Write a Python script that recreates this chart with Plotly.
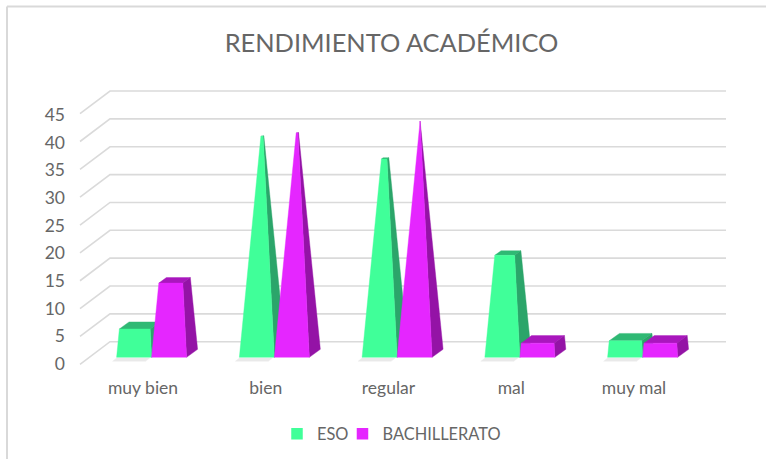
import plotly.graph_objects as go

CATEGORIES = ["muy bien", "bien", "regular", "mal", "muy mal"]
ESO = [5, 39, 35, 18, 2.9]
BACHILLERATO = [13.1, 39.6, 41.7, 2.5, 2.5]
Y_TICKS = [0, 5, 10, 15, 20, 25, 30, 35, 40, 45]

W, H = 766, 459
L, R, T, B = 66, 745, 60, 375
PX_CAT0, PX_PER_CAT = 143.0, 122.75
PX_V0, PX_PER_V = 364.0, 5.534
PLANE = 5.57 / 5.534


def dx(px):
    return px / PX_PER_CAT


def dv(px):
    return px / PX_PER_V


def xpx(p):
    return (p - PX_CAT0) / PX_PER_CAT


def ypx(p):
    return (PX_V0 - p) / PX_PER_V


x_range = [xpx(L), xpx(R)]
y_range = [ypx(B), ypx(T)]

BAR_W = dx(35.0)
D_X, D_V = dx(11.0), dv(8.0)
BASE_V = ypx(357.3)
OFFSET = dx(8.0 - 35.0 + 0.6)  # left edge of the first bar relative to the tick
APEX = max(ESO + BACHILLERATO)

GREEN = dict(front="#40FF99", side="#2BA56A", top="#2FB974")
PURPLE = dict(front="#E526FF", side="#9413A6", top="#A917BD")
GRID = "#DADADA"
TEXT = "#666666"
FONT = "Lato, Carlito, sans-serif"

fig = go.Figure()


def poly(xs, ys, color):
    fig.add_trace(go.Scatter(x=xs + xs[:1], y=ys + ys[:1], mode="lines", fill="toself",
                             fillcolor=color, line=dict(color=color, width=0.4),
                             hoverinfo="skip", showlegend=False))


def line(xs, ys):
    fig.add_trace(go.Scatter(x=xs, y=ys, mode="lines", line=dict(color=GRID, width=1.6),
                             hoverinfo="skip", showlegend=False))


# walls: gridlines on the back wall and their returns on the side wall
back_zero = ypx(341.7)
side_drop_x, side_drop_v = dx(30.0), dv(22.6)
for t in Y_TICKS:
    yb = back_zero + t * PLANE
    line([xpx(110) - side_drop_x, xpx(110), xpx(726)], [yb - side_drop_v, yb, yb])


def pyramid(c, left, value, col):
    x0, x1 = c + left, c + left + BAR_W
    apex_x = (x0 + x1) / 2 + D_X / 2
    apex_v = BASE_V + D_V / 2 + APEX * PLANE
    t = value / APEX

    def corner(bx, bv):
        return bx + t * (apex_x - bx), bv + t * (apex_v - bv)

    fl = corner(x0, BASE_V)
    fr = corner(x1, BASE_V)
    bl = corner(x0 + D_X, BASE_V + D_V)
    br = corner(x1 + D_X, BASE_V + D_V)
    poly([fl[0], fr[0], br[0], bl[0]], [fl[1], fr[1], br[1], bl[1]], col["top"])
    poly([x1, x1 + D_X, br[0], fr[0]], [BASE_V, BASE_V + D_V, br[1], fr[1]], col["side"])
    poly([x0, x1, fr[0], fl[0]], [BASE_V, BASE_V, fr[1], fl[1]], col["front"])


for i in range(len(CATEGORIES)):
    # soft floor shadow under the first bar of each group
    sx = i + OFFSET
    poly([sx, sx + BAR_W - dx(2), sx + BAR_W - dx(6), sx - dx(4)],
         [BASE_V - dv(0.8), BASE_V - dv(0.8), BASE_V - dv(4), BASE_V - dv(4)], "#EAEAEA")
    pyramid(i, OFFSET, ESO[i], GREEN)
    pyramid(i, OFFSET + BAR_W, BACHILLERATO[i], PURPLE)

for name, col in (("ESO", GREEN), ("BACHILLERATO", PURPLE)):
    fig.add_trace(go.Scatter(x=[None], y=[None], mode="markers", name=name,
                             marker=dict(symbol="square", size=11.5, color=col["front"])))

fig.update_layout(
    width=W, height=H, autosize=False,
    margin=dict(l=L, r=W - R, t=T, b=H - B, pad=0),
    paper_bgcolor="white", plot_bgcolor="white",
    font=dict(family=FONT, color=TEXT, size=16),
    title=dict(text="RENDIMIENTO ACADÉMICO", x=(225 + 558) / 2 / W, xanchor="center",
               y=1 - 43 / H, yanchor="middle", font=dict(size=25.4, color=TEXT, family=FONT)),
    xaxis=dict(range=x_range, tickmode="array", tickvals=list(range(len(CATEGORIES))),
               ticktext=CATEGORIES, showgrid=False, zeroline=False, showline=False,
               ticks="", tickfont=dict(size=17.5, color=TEXT)),
    yaxis=dict(range=y_range, tickmode="array", tickvals=Y_TICKS, showgrid=False,
               zeroline=False, showline=False, ticks="", tickfont=dict(size=17.5, color=TEXT)),
    legend=dict(orientation="h", x=397 / W, xref="container", xanchor="center",
                y=1 - 434 / H, yref="container", yanchor="middle", indentation=-11,
                font=dict(size=16.4, color=TEXT), itemwidth=30, bgcolor="rgba(0,0,0,0)"),
    shapes=[
        dict(type="line", xref="paper", yref="paper", x0=-(L - 7) / (R - L), x1=(W - L) / (R - L),
             y0=(B - 6.5) / (B - T), y1=(B - 6.5) / (B - T), line=dict(color="#D9D9D9", width=2)),
        dict(type="line", xref="paper", yref="paper", x0=-(L - 7) / (R - L), x1=-(L - 7) / (R - L),
             y0=(B - 6.5) / (B - T), y1=(B - H) / (B - T), line=dict(color="#D9D9D9", width=2)),
    ],
)

fig.write_html("out.html", post_script="document.body.style.margin='0';",
               config={"displayModeBar": False})
